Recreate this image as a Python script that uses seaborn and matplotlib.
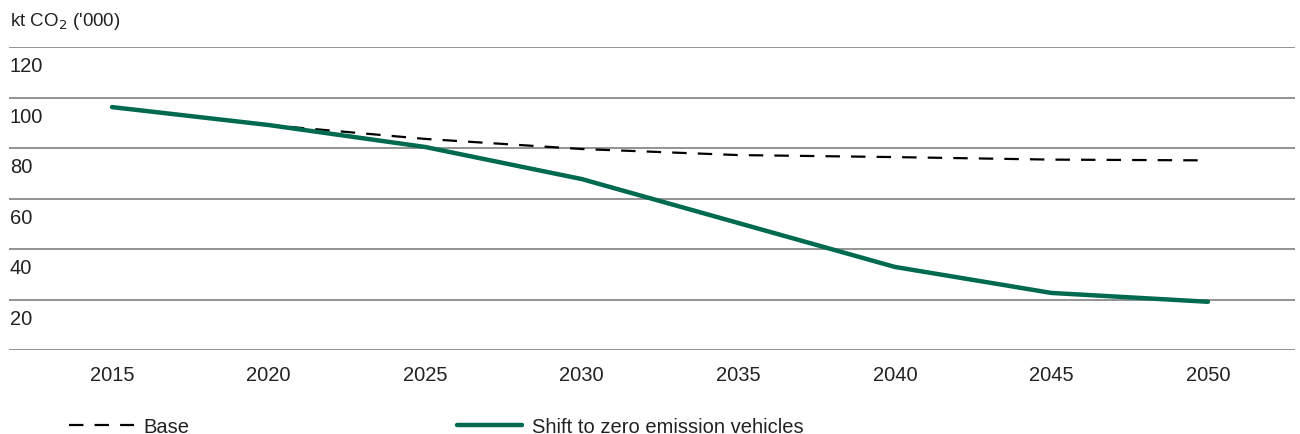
import pandas as pd
import numpy as np
import matplotlib.pyplot as plt
import matplotlib.transforms as mtransforms
import seaborn as sns

# Emissions in kt CO2 ('000)
years = [2015, 2020, 2025, 2030, 2035, 2040, 2045, 2050]
base = [96.2, 89.1, 83.6, 79.6, 77.2, 76.4, 75.4, 75.1]
zero_emission = [96.2, 89.1, 80.4, 67.7, 50.3, 32.9, 22.6, 19.1]
y_ticks = [0, 20, 40, 60, 80, 100, 120]

green = '#006a50'
txt = '#222222'
fs = 14.5

sns.set_style('white')
plt.rcParams['font.family'] = ['Liberation Sans', 'DejaVu Sans']

fig = plt.figure(figsize=(13, 4.35), dpi=100)
ax = fig.add_axes([9 / 1300, 1 - 351 / 435, 1286 / 1300, 303 / 435])

df = pd.DataFrame({'year': years, 'base': base, 'zev': zero_emission})
sns.lineplot(data=df, x='year', y='base', ax=ax, color='black', linewidth=1.6,
             label='Base')
ax.lines[-1].set_dashes((6.5, 5))
sns.lineplot(data=df, x='year', y='zev', ax=ax, color=green, linewidth=3.2,
             label='Shift to zero emission vehicles')

ax.set_xlim(2011.71, 2052.78)
ax.set_ylim(0, 120)
ax.set_yticks(y_ticks)
ax.set_yticklabels([])
ax.tick_params(axis='y', length=0)
ax.set_xticks(years)
ax.tick_params(axis='x', length=0, labelsize=fs, pad=10.5, colors=txt)
ax.grid(axis='y', color='#8a8a8a', linewidth=1.3)
ax.set_axisbelow(True)
for s in ax.spines.values():
    s.set_visible(False)
ax.set_xlabel('')
ax.set_ylabel('')

# y labels sit just under their gridline
trans = mtransforms.blended_transform_factory(ax.transAxes, ax.transData)
for v in y_ticks[1:]:
    ax.annotate(str(v), xy=(0, v), xycoords=trans, xytext=(0.5, -6.5),
                textcoords='offset points', ha='left', va='top',
                fontsize=fs, color=txt)

fig.text(10 / 1300, 1 - 22 / 435, "kt CO$_2$ ('000)", fontsize=13.5,
         color=txt, va='center', ha='left')

leg = ax.legend(loc='center left', bbox_to_anchor=(61 / 1300, 1 - 428 / 435),
                bbox_transform=fig.transFigure, ncol=2, frameon=False,
                fontsize=fs, handlelength=3.2, handletextpad=0.5,
                columnspacing=13.3, borderaxespad=0)
for t in leg.get_texts():
    t.set_color(txt)

fig.savefig('out.png', dpi=100)
